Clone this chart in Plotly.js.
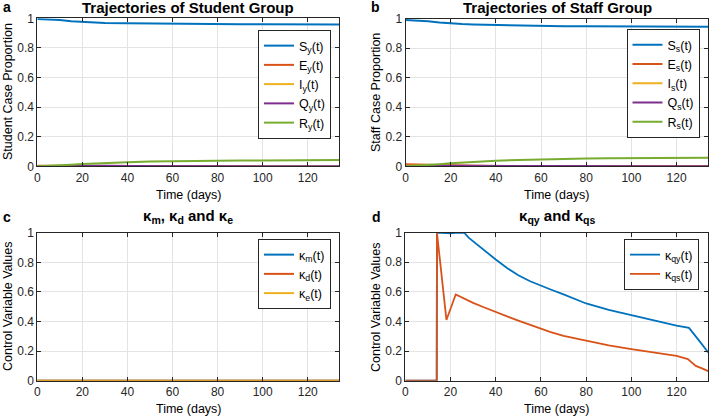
<!DOCTYPE html>
<html>
<head>
<meta charset="utf-8">
<script src="https://cdn.plot.ly/plotly-3.0.1.min.js"></script>
<style>html,body{margin:0;padding:0;background:#fff;}#chart{width:709px;height:418px;}</style>
</head>
<body>
<div id="chart"></div>
<script>
// ---- Data ----
const tAB = [0, 5, 10, 15, 20, 25, 30, 40, 50, 60, 70, 80, 90, 100, 110, 120, 130, 134];
const Sy = [0.995, 0.993, 0.988, 0.980, 0.975, 0.972, 0.969, 0.966, 0.964, 0.962, 0.961, 0.960, 0.960, 0.959, 0.959, 0.958, 0.958, 0.958];
const Ey = [0.004, 0.004, 0.004, 0.003, 0.003, 0.002, 0.002, 0.001, 0.0008, 0.0005, 0.0003, 0.0002, 0.0001, 0.0001, 0, 0, 0, 0];
const Iy = [0.001, 0.002, 0.002, 0.002, 0.002, 0.002, 0.0015, 0.001, 0.0007, 0.0005, 0.0003, 0.0002, 0.0001, 0.0001, 0, 0, 0, 0];
const Qy = [0, 0.001, 0.002, 0.003, 0.003, 0.003, 0.003, 0.002, 0.002, 0.001, 0.001, 0.001, 0.0005, 0.0005, 0.0003, 0.0002, 0.0002, 0.0002];
const Ry = [0, 0.002, 0.006, 0.011, 0.016, 0.020, 0.023, 0.028, 0.032, 0.035, 0.037, 0.038, 0.039, 0.040, 0.041, 0.041, 0.042, 0.042];

const Ss = [0.990, 0.988, 0.982, 0.973, 0.966, 0.962, 0.959, 0.955, 0.952, 0.950, 0.948, 0.947, 0.946, 0.946, 0.945, 0.945, 0.945, 0.945];
const Es = [0.014, 0.012, 0.009, 0.007, 0.005, 0.004, 0.003, 0.002, 0.001, 0.0007, 0.0005, 0.0003, 0.0002, 0.0001, 0, 0, 0, 0];
const Is = [0.003, 0.005, 0.005, 0.005, 0.004, 0.003, 0.003, 0.002, 0.001, 0.0007, 0.0005, 0.0003, 0.0002, 0.0001, 0, 0, 0, 0];
const Qs = [0, 0.002, 0.003, 0.004, 0.004, 0.004, 0.003, 0.003, 0.002, 0.002, 0.001, 0.001, 0.001, 0.0005, 0.0005, 0.0003, 0.0003, 0.0003];
const Rs = [0, 0.003, 0.008, 0.014, 0.020, 0.025, 0.030, 0.037, 0.043, 0.048, 0.051, 0.053, 0.055, 0.056, 0.057, 0.058, 0.058, 0.058];

const tC = [0, 134];
const km = [0, 0];
const kd = [0, 0];
const ke = [0, 0];

const tQy = [0, 13.9, 14, 16, 18, 20, 22, 24, 26, 28, 30, 33, 36, 40, 45, 50, 55, 60, 64, 70, 80, 90, 100, 110, 115, 120, 125.5, 128, 130.5, 133.5, 134];
const kqy = [0, 0, 1, 0.997, 0.994, 0.994, 0.997, 1, 1, 0.965, 0.940, 0.905, 0.870, 0.818, 0.760, 0.712, 0.673, 0.640, 0.617, 0.582, 0.521, 0.478, 0.441, 0.405, 0.388, 0.372, 0.356, 0.310, 0.260, 0.200, 0.190];
const tQs = [0, 13.9, 14, 18.2, 22.3, 25, 30, 35, 40, 45, 50, 55, 60, 64, 70, 80, 90, 100, 110, 120, 125, 128.5, 131, 134];
const kqs = [0, 0, 1, 0.41, 0.582, 0.560, 0.525, 0.494, 0.463, 0.432, 0.405, 0.378, 0.350, 0.330, 0.303, 0.268, 0.238, 0.213, 0.190, 0.168, 0.146, 0.100, 0.085, 0.065];

const xTicks = [0, 20, 40, 60, 80, 100, 120];
const yTicks = [0, 0.2, 0.4, 0.6, 0.8, 1];

const C = ['#0072BD', '#D95319', '#EDB120', '#7E2F8E', '#77AC30'];

// ---- Traces ----
function tr(x, y, name, color, xa, ya, leg, w) {
  return {x: x, y: y, name: name, type: 'scatter', mode: 'lines',
    line: {color: color, width: w || 2}, xaxis: xa, yaxis: ya, legend: leg};
}
const data = [
  tr(tAB, Sy, 'S<sub>y</sub>(t)', C[0], 'x', 'y', 'legend'),
  tr(tAB, Ey, 'E<sub>y</sub>(t)', C[1], 'x', 'y', 'legend'),
  tr(tAB, Iy, 'I<sub>y</sub>(t)', C[2], 'x', 'y', 'legend'),
  tr(tAB, Qy, 'Q<sub>y</sub>(t)', C[3], 'x', 'y', 'legend'),
  tr(tAB, Ry, 'R<sub>y</sub>(t)', C[4], 'x', 'y', 'legend'),
  tr(tAB, Ss, 'S<sub>s</sub>(t)', C[0], 'x2', 'y2', 'legend2'),
  tr(tAB, Es, 'E<sub>s</sub>(t)', C[1], 'x2', 'y2', 'legend2'),
  tr(tAB, Is, 'I<sub>s</sub>(t)', C[2], 'x2', 'y2', 'legend2'),
  tr(tAB, Qs, 'Q<sub>s</sub>(t)', C[3], 'x2', 'y2', 'legend2'),
  tr(tAB, Rs, 'R<sub>s</sub>(t)', C[4], 'x2', 'y2', 'legend2'),
  tr(tC, km, 'κ<sub>m</sub>(t)', C[0], 'x3', 'y3', 'legend3'),
  tr(tC, kd, 'κ<sub>d</sub>(t)', C[1], 'x3', 'y3', 'legend3'),
  tr(tC, ke, 'κ<sub>e</sub>(t)', C[2], 'x3', 'y3', 'legend3'),
  tr(tQy, kqy, 'κ<sub>qy</sub>(t)', C[0], 'x4', 'y4', 'legend4', 1.8),
  tr(tQs, kqs, 'κ<sub>qs</sub>(t)', C[1], 'x4', 'y4', 'legend4', 1.8)
];

// ---- Layout ----
const W = 709, H = 418;
const FONT = 'Liberation Sans, Arial, Helvetica, sans-serif';
const px = v => v / W;
const py = v => 1 - v / H;

function xax(l, r, anchor) {
  return {domain: [px(l), px(r)], range: [0, 134], tickvals: xTicks, ticks: 'inside', ticklen: 4,
    tickcolor: '#262626', showline: true, linecolor: '#262626', linewidth: 1, mirror: 'ticks',
    showgrid: true, gridcolor: '#e3e3e3', gridwidth: 1, zeroline: false, anchor: anchor,
    tickfont: {size: 12, color: '#262626', family: FONT}, fixedrange: true};
}
function yax(top, bot, anchor) {
  return {domain: [py(bot), py(top)], range: [0, 1], tickvals: yTicks, ticks: 'inside', ticklen: 4,
    tickcolor: '#262626', showline: true, linecolor: '#262626', linewidth: 1, mirror: 'ticks',
    showgrid: true, gridcolor: '#e3e3e3', gridwidth: 1, zeroline: false, anchor: anchor,
    tickfont: {size: 12, color: '#262626', family: FONT}, fixedrange: true};
}
function leg(l, t) {
  return {x: px(l), y: py(t), xanchor: 'left', yanchor: 'top', xref: 'paper', yref: 'paper',
    bgcolor: '#ffffff', bordercolor: '#262626', borderwidth: 1,
    font: {size: 12.5, color: '#000', family: FONT}, tracegroupgap: 0};
}
function ann(x, y, text, size, bold, rot) {
  return {x: px(x), y: py(y), xref: 'paper', yref: 'paper', text: bold ? '<b>' + text + '</b>' : text,
    showarrow: false, xanchor: 'center', yanchor: 'middle', textangle: rot || 0,
    font: {size: size, color: '#000', family: FONT}};
}

const layout = {
  width: W, height: H, margin: {l: 0, r: 0, t: 0, b: 0},
  paper_bgcolor: '#fff', plot_bgcolor: '#fff', showlegend: true,
  font: {family: FONT, size: 12, color: '#262626'},
  xaxis: xax(37.3, 339.3, 'y'), yaxis: yax(18.3, 166.3, 'x'),
  xaxis2: xax(405.5, 708.2, 'y2'), yaxis2: yax(18.5, 166.3, 'x2'),
  xaxis3: xax(37.3, 339.3, 'y3'), yaxis3: yax(232.8, 380.7, 'x3'),
  xaxis4: xax(405.3, 708.2, 'y4'), yaxis4: yax(232.5, 380.7, 'x4'),
  legend: leg(258, 30), legend2: leg(626.5, 29), legend3: leg(258, 239), legend4: leg(624, 239),
  annotations: [
    ann(188, 7.5, 'Trajectories of Student Group', 15, true),
    ann(557.5, 7.5, 'Trajectories of Staff Group', 15, true),
    ann(188, 216, 'κ<sub>m</sub>, κ<sub>d</sub> and κ<sub>e</sub>', 15, true),
    ann(556.5, 216, 'κ<sub>qy</sub> and κ<sub>qs</sub>', 15, true),
    ann(7, 7, 'a', 14, true), ann(376, 7, 'b', 14, true),
    ann(7, 217, 'c', 14, true), ann(377, 217, 'd', 14, true),
    ann(189, 195, 'Time (days)', 12.5), ann(557, 195, 'Time (days)', 12.5),
    ann(189, 409, 'Time (days)', 12.5), ann(557, 409, 'Time (days)', 12.5),
    ann(8, 92, 'Student Case Proportion', 12.5, false, -90),
    ann(376, 92, 'Staff Case Proportion', 12.5, false, -90),
    ann(8, 307, 'Control Variable Values', 12.5, false, -90),
    ann(376, 307, 'Control Variable Values', 12.5, false, -90)
  ]
};

Plotly.newPlot('chart', data, layout, {staticPlot: true, displayModeBar: false});
</script>
</body>
</html>
